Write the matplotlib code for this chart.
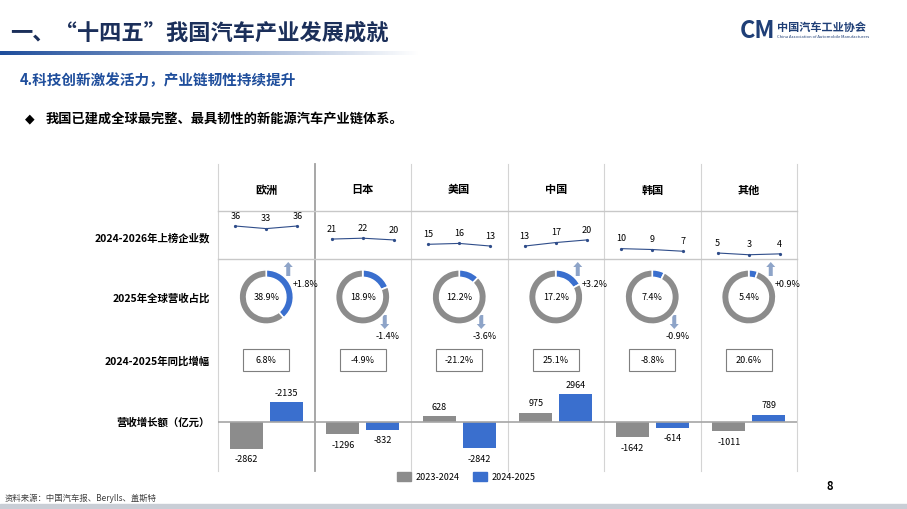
import matplotlib
matplotlib.use("Agg")
import matplotlib.pyplot as plt
import numpy as np
from matplotlib.patches import Rectangle, FancyArrow
from matplotlib.colors import LinearSegmentedColormap

plt.rcParams['font.family'] = ['Noto Sans CJK SC', 'DejaVu Sans']

regions = ["欧洲", "日本", "美国", "中国", "韩国", "其他"]
counts = [[36, 33, 36], [21, 22, 20], [15, 16, 13], [13, 17, 20], [10, 9, 7], [5, 3, 4]]
share = [38.9, 18.9, 12.2, 17.2, 7.4, 5.4]
share_chg = ["+1.8%", "-1.4%", "-3.6%", "+3.2%", "-0.9%", "+0.9%"]
yoy = ["6.8%", "-4.9%", "-21.2%", "25.1%", "-8.8%", "20.6%"]
inc_2324 = [-2862, -1296, 628, 975, -1642, -1011]
inc_2425 = [2135, -832, -2842, 2964, -614, 789]
inc_2425_labels = ["-2135", "-832", "-2842", "2964", "-614", "789"]
row_labels = ["2024-2026年上榜企业数", "2025年全球营收占比", "2024-2025年同比增幅", "营收增长额（亿元）"]

W, H = 907, 510
fig = plt.figure(figsize=(W/100, H/100), dpi=100)
bg = fig.add_axes([0, 0, 1, 1])
bg.set_xlim(0, W); bg.set_ylim(H, 0); bg.axis('off')

def fax(x0, y0, x1, y1):
    return fig.add_axes([x0/W, 1-y1/H, (x1-x0)/W, (y1-y0)/H])

# header
bg.text(10, 33, "一、“十四五”我国汽车产业发展成就", fontsize=16, fontweight='bold', color='#1b2f5a', va='center')
grad = np.linspace(1, 0, 300)[None, :]
cm = LinearSegmentedColormap.from_list('g', ['#ffffff', '#1f4e9c'])
bg.imshow(grad, cmap=cm, extent=[0, 420, 56, 52], aspect='auto', vmin=0, vmax=1)
bg.set_xlim(0, W); bg.set_ylim(H, 0)
bg.text(740, 31, "CM", fontsize=17, fontweight='bold', style='italic', color='#1f3f77', va='center')
bg.text(777, 27, "中国汽车工业协会", fontsize=8, fontweight='bold', color='#1f3f77', va='center')
bg.text(777, 37, "China Association of Automobile Manufacturers", fontsize=3, color='#1f3f77', va='center')
bg.text(20, 80, "4.科技创新激发活力，产业链韧性持续提升", fontsize=10.5, fontweight='bold', color='#1f4e9c', va='center')
bg.text(25, 119, "◆", fontsize=9, color='black', va='center', family=['DejaVu Sans'])
bg.text(46, 119, "我国已建成全球最完整、最具韧性的新能源汽车产业链体系。", fontsize=9.5, fontweight='bold', color='black', va='center')

# grid
xs = [218 + i*96.5 for i in range(7)]
cx = [xs[i] + 48.25 for i in range(6)]
for i, x in enumerate(xs):
    bg.plot([x, x], [165, 472], color='#a0a0a0' if i == 1 else '#d4d4d4', lw=1.3 if i == 1 else 0.8)
for y in (212, 260):
    bg.plot([218, 797], [y, y], color='#c8c8c8', lw=1)
for i, r in enumerate(regions):
    bg.text(cx[i], 190, r, fontsize=8, fontweight='bold', ha='center', va='center')
for lab, y in zip(row_labels, [238, 298, 361, 423]):
    bg.text(210, y, lab, fontsize=7.5, fontweight='bold', ha='right', va='center')

# sparklines
sp = fax(218, 215, 797, 260)
sp.set_xlim(218, 797)
sp.set_ylim(5 - 6/0.871, 5 + 39/0.871)
sp.axis('off')
for i, c in enumerate(counts):
    px = [cx[i]-31, cx[i], cx[i]+31]
    sp.plot(px, c, color='#2f4d8a', lw=0.8, marker='o', ms=1.3)
    for xx, v in zip(px, c):
        sp.annotate(str(v), (xx, v), xytext=(0, 6), textcoords='offset points', ha='center', fontsize=6.5)

# donuts
for i, s in enumerate(share):
    a = fax(cx[i]-34, 264, cx[i]+34, 332)
    a.pie([s, 100-s], colors=['#3a6fce', '#8c8c8c'], startangle=90, counterclock=False,
          wedgeprops=dict(width=0.28, edgecolor='white', linewidth=1.2))
    a.set_aspect('equal')
    a.text(0, 0, f"{s}%", ha='center', va='center', fontsize=6.5)
    up = share_chg[i].startswith('+')
    ax_ = cx[i] + 22
    if up:
        bg.add_patch(FancyArrow(ax_, 277, 0, -9, width=4, head_width=9, head_length=5, color='#8ea4c8', lw=0))
        bg.text(ax_+4, 285, share_chg[i], fontsize=6.5, va='center')
    else:
        bg.add_patch(FancyArrow(ax_, 316, 0, 9, width=4, head_width=9, head_length=5, color='#8ea4c8', lw=0))
        bg.text(ax_+3, 337, share_chg[i], fontsize=6.5, va='center', ha='center')

# yoy boxes
for i, t in enumerate(yoy):
    bg.add_patch(Rectangle((cx[i]-23, 350), 46, 22, fill=False, ec='#7f7f7f', lw=0.8))
    bg.text(cx[i], 361, t, fontsize=6.5, ha='center', va='center')

# bars
ba = fax(218, 385, 797, 462)
ba.set_xlim(218, 797)
ba.set_ylim(-(462-423)/0.0093, (423-385)/0.0093)
ba.axis('off')
xg = [c-20 for c in cx]; xb = [c+20 for c in cx]
ba.bar(xg, inc_2324, width=33, color='#8c8c8c')
ba.bar(xb, inc_2425, width=33, color='#3a6fce')
ba.axhline(0, color='#a6a6a6', lw=1.2)
for x, v in zip(xg, inc_2324):
    ba.annotate(str(v), (x, v), xytext=(0, 4 if v > 0 else -4), textcoords='offset points',
                ha='center', va='bottom' if v > 0 else 'top', fontsize=6.5)
for x, v, l in zip(xb, inc_2425, inc_2425_labels):
    ba.annotate(l, (x, v), xytext=(0, 4 if v > 0 else -4), textcoords='offset points',
                ha='center', va='bottom' if v > 0 else 'top', fontsize=6.5)

# legend
bg.add_patch(Rectangle((397, 473), 14, 9, color='#8c8c8c'))
bg.text(416, 478, "2023-2024", fontsize=6.5, va='center')
bg.add_patch(Rectangle((473, 473), 14, 9, color='#3a6fce'))
bg.text(492, 478, "2024-2025", fontsize=6.5, va='center')

bg.text(830, 487, "8", fontsize=8, fontweight='bold', va='center', ha='center')
bg.text(5, 498, "资料来源：中国汽车报、Berylls、盖斯特", fontsize=6, color='#404040', va='center')
bg.add_patch(Rectangle((0, 505), W, 5, color='#c9ced6'))

fig.savefig("out.png", dpi=100)
